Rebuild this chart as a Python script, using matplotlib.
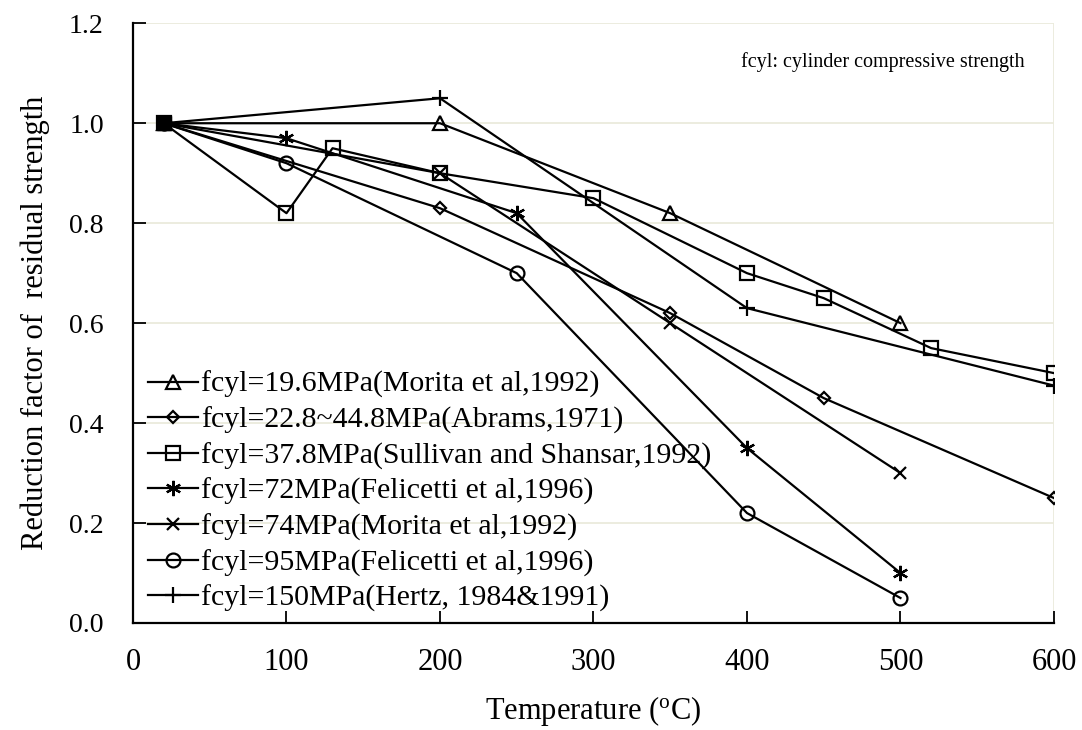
import matplotlib
matplotlib.use('Agg')
import matplotlib.pyplot as plt

plt.rcParams['font.family'] = ['Liberation Serif', 'DejaVu Serif']

# temperature (C) and reduction factor for each data set
t_morita196 = [20, 200, 350, 500]
r_morita196 = [1.0, 1.0, 0.82, 0.60]

t_abrams = [20, 200, 350, 450, 600]
r_abrams = [1.0, 0.83, 0.62, 0.45, 0.25]

t_sullivan = [20, 100, 130, 200, 300, 400, 450, 520, 600]
r_sullivan = [1.0, 0.82, 0.95, 0.90, 0.85, 0.70, 0.65, 0.55, 0.50]

t_felicetti72 = [20, 100, 250, 400, 500]
r_felicetti72 = [1.0, 0.97, 0.82, 0.35, 0.10]

t_morita74 = [20, 200, 350, 500]
r_morita74 = [1.0, 0.90, 0.60, 0.30]

t_felicetti95 = [20, 100, 250, 400, 500]
r_felicetti95 = [1.0, 0.92, 0.70, 0.22, 0.05]

t_hertz = [20, 200, 400, 600]
r_hertz = [1.0, 1.05, 0.63, 0.475]

labels = ['fcyl=19.6MPa(Morita et al,1992)',
          'fcyl=22.8~44.8MPa(Abrams,1971)',
          'fcyl=37.8MPa(Sullivan and Shansar,1992)',
          'fcyl=72MPa(Felicetti et al,1996)',
          'fcyl=74MPa(Morita et al,1992)',
          'fcyl=95MPa(Felicetti et al,1996)',
          'fcyl=150MPa(Hertz, 1984&1991)']

series = [(t_morita196, r_morita196, '^', 10),
          (t_abrams, r_abrams, 'D', 6.5),
          (t_sullivan, r_sullivan, 's', 10),
          (t_felicetti72, r_felicetti72, (6, 2, 0), 11),
          (t_morita74, r_morita74, 'x', 9),
          (t_felicetti95, r_felicetti95, 'o', 10),
          (t_hertz, r_hertz, '+', 11)]

fig = plt.figure(figsize=(10.82, 7.3), dpi=100)
ax = fig.add_axes([0.1229, 0.1466, 0.8512, 0.8215])

for (x, y, m, ms), lab in zip(series, labels):
    ax.plot(x, y, color='black', lw=1.6, marker=m, markersize=ms,
            markerfacecolor='none', markeredgecolor='black',
            markeredgewidth=1.6, label=lab)

# start point looks solid in the original (all markers stacked)
ax.plot([t_sullivan[0]], [r_sullivan[0]], 's', color='black', markersize=10, zorder=5)

ax.set_xlim(0, 600)
ax.set_ylim(0, 1.2)
ax.set_xticks(range(0, 601, 100))
yt = [0, 0.2, 0.4, 0.6, 0.8, 1.0, 1.2]
ax.set_yticks(yt)
ax.set_yticklabels(['%.1f' % v for v in yt])
ax.grid(axis='y', color='#ebebdc', lw=1.3)
ax.axvline(600, color='#ebebdc', lw=1.3, zorder=0)
ax.set_axisbelow(True)

for s in ['top', 'right']:
    ax.spines[s].set_visible(False)
ax.spines['left'].set_linewidth(1.6)
ax.spines['bottom'].set_linewidth(1.6)
ax.tick_params(axis='y', direction='in', length=9, width=1.3, labelsize=20, pad=21)
ax.tick_params(axis='x', direction='in', length=9, width=1.3, labelsize=22, pad=18)

ax.set_xlabel('Temperature ($\\mathregular{^o}$C)', fontsize=22, labelpad=12)
ax.set_ylabel('Reduction factor of  residual strength', fontsize=22, labelpad=14)

ax.text(0.968, 0.935, 'fcyl: cylinder compressive strength', transform=ax.transAxes,
        ha='right', va='center', fontsize=14.5)

ax.legend(loc='lower left', frameon=False, fontsize=21.5, handlelength=1.7,
          handletextpad=0.1, labelspacing=0.28, borderaxespad=0.0,
          bbox_to_anchor=(0.003, -0.002))

fig.savefig('out.png', dpi=100)
